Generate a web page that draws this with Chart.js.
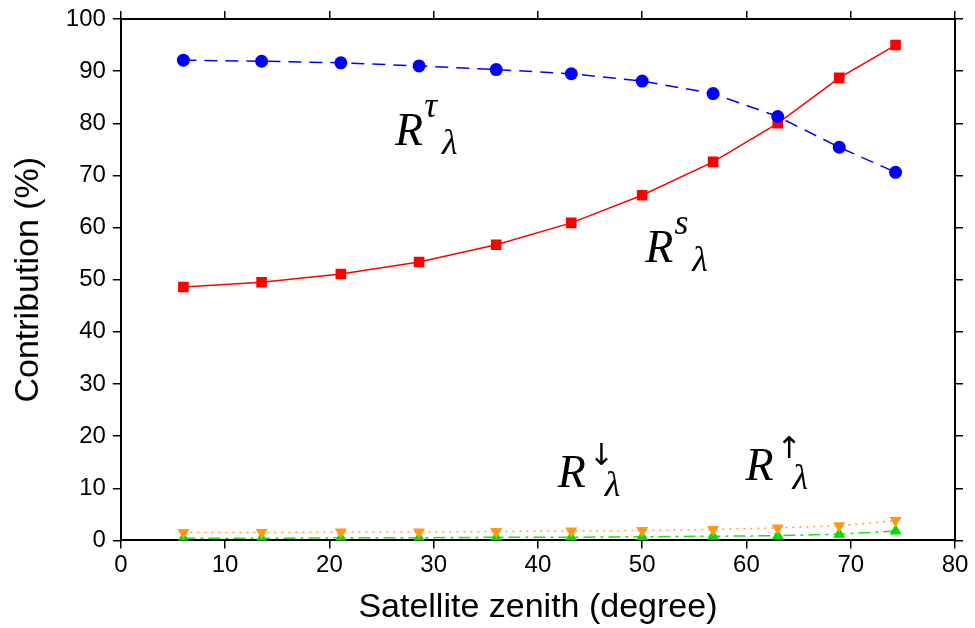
<!DOCTYPE html>
<html>
<head>
<meta charset="utf-8">
<script src="https://cdn.jsdelivr.net/npm/chart.js@4.4.1/dist/chart.umd.min.js"></script>
<style>
  html, body { margin: 0; padding: 0; background: #fff; }
  #wrap { width: 975px; height: 628px; }
</style>
</head>
<body>
<div id="wrap"><canvas id="chart" width="975" height="628"></canvas></div>
<script>
// satellite zenith angles (degree)
const zenith = [6, 13.5, 21.1, 28.6, 36, 43.2, 50, 56.8, 63, 68.9, 74.3];

// contribution (%) of each term
const transmitted = [92.1, 91.9, 91.6, 91.0, 90.3, 89.5, 88.1, 85.7, 81.3, 75.4, 70.6];
const surface = [48.6, 49.5, 51.1, 53.4, 56.7, 60.9, 66.2, 72.6, 80.0, 88.7, 95.0];
const downwelling = [1.5, 1.5, 1.6, 1.6, 1.7, 1.8, 1.9, 2.1, 2.4, 2.8, 3.8];
const upwelling = [0.4, 0.4, 0.5, 0.5, 0.6, 0.6, 0.7, 0.8, 0.9, 1.2, 1.8];

// in-plot term labels R^sup_λ, anchored at (zenith, contribution)
const termSup = ['\u03C4', 's', '\u2193', '\u2191'];
const termX = [26.3, 50.3, 41.9, 59.9];
const termY = [75.8, 53.4, 10.2, 11.5];

const tickFont = { family: "'Liberation Sans', Arial, sans-serif", size: 24 };
const yTickFont = { family: "'Liberation Sans', Arial, sans-serif", size: 24, lineHeight: 1 };
const titleFont = { family: "'Liberation Sans', Arial, sans-serif", size: 34 };
const serif = "'Liberation Serif', 'DejaVu Serif', serif";

function pairs(ys) {
  return ys.map((y, i) => ({ x: zenith[i], y: y }));
}

const termLabels = {
  id: 'termLabels',
  afterDatasetsDraw(chart) {
    const { ctx, scales } = chart;
    ctx.save();
    ctx.fillStyle = '#000';
    ctx.textBaseline = 'alphabetic';
    ctx.textAlign = 'left';
    termSup.forEach((sup, i) => {
      const px = scales.x.getPixelForValue(termX[i]);
      const py = scales.y.getPixelForValue(termY[i]);
      ctx.font = 'italic 46px ' + serif;
      ctx.fillText('R', px, py);
      const rw = ctx.measureText('R').width;
      const isArrow = sup === '\u2193' || sup === '\u2191';
      if (isArrow) {
        ctx.font = "30px 'DejaVu Sans', sans-serif";
        ctx.fillText(sup, px + rw + 3, py - 22);
      } else {
        ctx.font = 'italic 36px ' + serif;
        ctx.fillText(sup, px + rw + 1, py - 28);
      }
      ctx.font = 'italic 36px ' + serif;
      ctx.fillText('\u03BB', px + 47, py + 9);
    });
    ctx.restore();
  }
};

new Chart(document.getElementById('chart'), {
  type: 'line',
  data: {
    datasets: [
      {
        label: 'R tau',
        data: pairs(transmitted),
        borderColor: '#0000ff',
        backgroundColor: '#0000ff',
        borderWidth: 1.5,
        borderDash: [13, 8],
        pointStyle: 'circle',
        pointRadius: 6.5,
        pointBorderWidth: 0
      },
      {
        label: 'R s',
        data: pairs(surface),
        borderColor: '#ff0000',
        backgroundColor: '#ff0000',
        borderWidth: 1.5,
        pointStyle: 'rect',
        pointRadius: 7.5,
        pointBorderWidth: 0
      },
      {
        label: 'R down',
        data: pairs(downwelling),
        borderColor: '#ffa030',
        backgroundColor: '#ff9a10',
        borderWidth: 1.5,
        borderDash: [2, 5],
        pointStyle: 'triangle',
        pointRotation: 180,
        pointRadius: 7,
        pointBorderWidth: 0
      },
      {
        label: 'R up',
        data: pairs(upwelling),
        borderColor: '#22dd22',
        backgroundColor: '#00dd00',
        borderWidth: 1.5,
        borderDash: [12, 5, 3, 5],
        pointStyle: 'triangle',
        pointRadius: 7,
        pointBorderWidth: 0
      }
    ]
  },
  options: {
    responsive: false,
    animation: false,
    events: [],
    layout: { padding: { left: 8, right: 12, top: 0, bottom: 0 } },
    plugins: { legend: { display: false }, tooltip: { enabled: false } },
    scales: {
      x: {
        type: 'linear', position: 'bottom', min: 0, max: 80,
        border: { display: true, color: '#000', width: 2 },
        grid: { drawOnChartArea: false, color: '#000', lineWidth: 1.5, tickLength: 8 },
        ticks: { stepSize: 10, color: '#000', font: tickFont, padding: 3, maxRotation: 0 },
        title: { display: true, text: 'Satellite zenith (degree)', color: '#000', font: titleFont, padding: { top: 4, bottom: 0 } }
      },
      x2: {
        type: 'linear', position: 'top', min: 0, max: 80,
        border: { display: true, color: '#000', width: 2 },
        grid: { drawOnChartArea: false, color: '#000', lineWidth: 1.5, tickLength: 8 },
        ticks: { stepSize: 10, display: false }
      },
      y: {
        type: 'linear', position: 'left', min: 0, max: 100,
        border: { display: true, color: '#000', width: 2 },
        grid: { drawOnChartArea: false, color: '#000', lineWidth: 1.5, tickLength: 8 },
        ticks: { stepSize: 10, color: '#000', font: yTickFont, padding: 7 },
        title: { display: true, text: 'Contribution (%)', color: '#000', font: titleFont, padding: { top: 0, bottom: 10 } }
      },
      y2: {
        type: 'linear', position: 'right', min: 0, max: 100,
        border: { display: true, color: '#000', width: 2 },
        grid: { drawOnChartArea: false, color: '#000', lineWidth: 1.5, tickLength: 8 },
        ticks: { stepSize: 10, display: false }
      }
    }
  },
  plugins: [termLabels]
});
</script>
</body>
</html>
